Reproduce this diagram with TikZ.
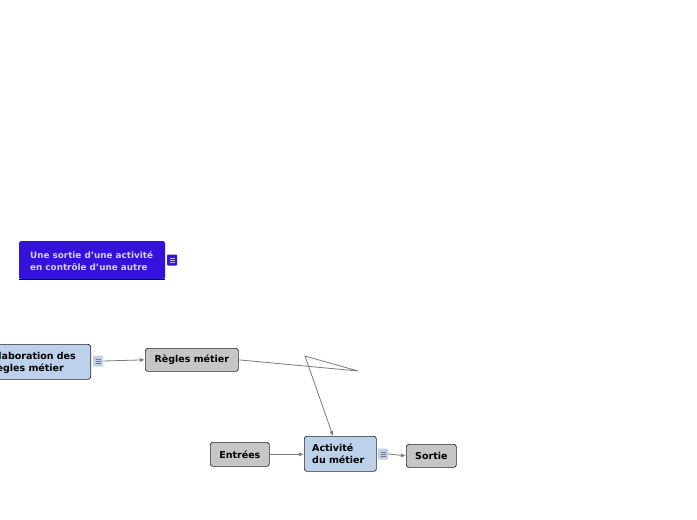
\documentclass[tikz,border=0pt]{standalone}
\usepackage{fontspec}
\setmainfont{DejaVu Sans}
\usetikzlibrary{arrows.meta}
\definecolor{lblue}{HTML}{BDD1EA}
\definecolor{gbox}{HTML}{C6C6C6}
\definecolor{vblue}{HTML}{3412DC}
\definecolor{lnk}{HTML}{7A7A7A}
\tikzset{
  box/.style={draw=black!85, rounded corners=2.5pt, line width=0.7pt, inner sep=0pt, font=\bfseries\fontsize{9.5}{12}\selectfont, align=left},
  bluebox/.style={box, fill=lblue},
  graybox/.style={box, fill=gbox},
  conn/.style={draw=lnk, line width=0.8pt, -{Latex[length=5pt,width=4pt]}},
  icon/.style={fill=#1, minimum width=10pt, minimum height=11pt, inner sep=0pt, rounded corners=1pt},
}
\begin{document}
\begin{tikzpicture}[x=1pt,y=-1pt]
\useasboundingbox (0,0) rectangle (697,520);
% top purple node
\node[fill=vblue, rounded corners=1.5pt, minimum width=146pt, minimum height=38pt, anchor=north west, inner sep=0pt] (top) at (19,241) {};
\node[font=\bfseries\fontsize{8.8}{12}\selectfont, text=white!80!vblue, align=left, anchor=west, inner sep=0pt] (toptxt) at (30,261) {Une sortie d\symbol{39}une activité\\en contrôle d\symbol{39}une autre};
\draw[line width=0.8pt] (top.south west) -- (top.south east);
\node[icon=vblue, anchor=west] (topicon) at (167,260) {};
\foreach \dy in {-2,0,2} \draw[white!70!vblue, line width=0.5pt] ([xshift=-2.5pt,yshift=\dy pt]topicon.center) -- ([xshift=2.5pt,yshift=\dy pt]topicon.center);
% elaboration
\node[bluebox, minimum width=130pt, minimum height=35pt, anchor=north east] (elab) at (91,344) {};
\node[font=\bfseries\fontsize{9.5}{12}\selectfont, align=left, anchor=east, inner sep=0pt] (elabtxt) at (76,362) {Élaboration des\\règles métier};
\node[icon=lblue, anchor=west] (elabicon) at (93,361) {};
\foreach \dy in {-2,0,2} \draw[lnk, line width=0.5pt] ([xshift=-2.5pt,yshift=\dy pt]elabicon.center) -- ([xshift=2.5pt,yshift=\dy pt]elabicon.center);
% regles
\node[graybox, minimum width=93pt, minimum height=23pt, anchor=north west] (regles) at (145,348) {Règles métier};
% entrees
\node[graybox, minimum width=59pt, minimum height=24pt, anchor=north west] (entrees) at (210,442) {Entrées};
% activite
\node[bluebox, minimum width=72pt, minimum height=35pt, anchor=north west] (activ) at (304,436) {};
\node[font=\bfseries\fontsize{9.5}{12}\selectfont, align=left, anchor=west, inner sep=0pt] (activtxt) at (312,454) {Activité\\du métier};
\node[icon=lblue, anchor=west] (activicon) at (378,454) {};
\foreach \dy in {-2,0,2} \draw[lnk, line width=0.5pt] ([xshift=-2.5pt,yshift=\dy pt]activicon.center) -- ([xshift=2.5pt,yshift=\dy pt]activicon.center);
% sortie
\node[graybox, minimum width=50pt, minimum height=23pt, anchor=north west] (sortie) at (406,444) {Sortie};
% connectors
\coordinate (p1) at (358,371);
\coordinate (p2) at (305,356);
\draw[conn] (elabicon.east) -- (regles.west);
\draw[conn] (regles.east) -- (p1) -- (p2) -- (activ.north west -| 333,0);
\draw[conn] (entrees.east) -- (activ.west |- entrees.east);
\draw[conn] (activicon.east) -- (sortie.west);
\end{tikzpicture}
\end{document}
